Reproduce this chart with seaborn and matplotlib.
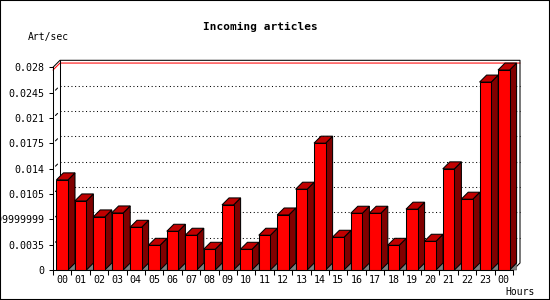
import numpy as np
import pandas as pd
import matplotlib
matplotlib.use("Agg")
import matplotlib.pyplot as plt
import seaborn as sns
from matplotlib.patches import Polygon, Rectangle

# ---- data ----
hours = ["00", "01", "02", "03", "04", "05", "06", "07", "08", "09", "10", "11",
         "12", "13", "14", "15", "16", "17", "18", "19", "20", "21", "22", "23", "00"]
values = [0.01245, 0.00954, 0.00733, 0.00788, 0.0059, 0.00341, 0.00535, 0.0048,
          0.00286, 0.00899, 0.00286, 0.0048, 0.0076, 0.01116, 0.01752, 0.00452,
          0.00784, 0.00784, 0.00341, 0.0084, 0.00397, 0.01397, 0.00978, 0.02596, 0.02762]
ytick_values = [0, 0.0035, 0.007, 0.0105, 0.014, 0.0175, 0.021, 0.0245, 0.028]
ytick_labels = ["0", "0.0035", "0.00699999999", "0.0105", "0.014", "0.0175",
                "0.021", "0.0245", "0.028"]
title = "Incoming articles"
ylabel = "Art/sec"
xlabel = "Hours"

sns.set_theme(style="white")
plt.rcParams['font.family'] = ['DejaVu Sans Mono']

W, H = 550, 300
fig = plt.figure(figsize=(W / 100, H / 100), dpi=100)
fig.patch.set_facecolor("white")
ax_h = 202.7
ax = fig.add_axes([53 / W, 30 / H, 460 / W, ax_h / H])
ax.patch.set_visible(False)

n = len(values)
df = pd.DataFrame({"slot": list(range(n)), "value": values})
sns.barplot(data=df, x="slot", y="value", color="#ff0000", saturation=1,
            width=0.63, edgecolor="black", linewidth=0.75, errorbar=None,
            ax=ax, zorder=3)

ymax = 0.028
ax.set_xlim(-0.5, n - 0.5)
ax.set_ylim(0, ymax)

# depth of the 3D effect (7 px)
DX = 7 / (460 / n)
DY = 7 / ax_h * ymax
LW = 0.75

for p in list(ax.patches):
    p.set_clip_on(False)
    x0 = p.get_x()
    w = p.get_width()
    h = p.get_height()
    x1 = x0 + w
    shadow = Polygon([(x1, 0), (x1 + DX, DY), (x1 + DX, 0)], closed=True,
                     fc="#808080", ec="#606060", lw=0.5, zorder=2.5, clip_on=False)
    side = Polygon([(x1, 0), (x1 + DX, DY), (x1 + DX, h + DY), (x1, h)], closed=True,
                   fc="#800000", ec="black", lw=LW, zorder=2.8, clip_on=False)
    top = Polygon([(x0, h), (x1, h), (x1 + DX, h + DY), (x0 + DX, h + DY)], closed=True,
                  fc="#c00000", ec="black", lw=LW, zorder=2.8, clip_on=False)
    ax.add_patch(shadow)
    ax.add_patch(side)
    ax.add_patch(top)

xl, xr = -0.5, n - 0.5
# back-plane dotted grid
for v in ytick_values[1:-1]:
    ax.plot([xl + DX, xr + DX], [v + DY, v + DY], color="black", lw=0.75,
            ls=(0, (1, 2.5)), zorder=1, clip_on=False)
    ax.plot([xl + DX * 0.35, xl + DX * 0.65], [v + DY * 0.35, v + DY * 0.65],
            color="black", lw=0.75, zorder=1, clip_on=False)
# max line (red) in back plane
vmax = max(values)
ax.plot([xl, xl + DX, xr + DX], [vmax, vmax + DY, vmax + DY], color="red", lw=0.75,
        zorder=1.5, clip_on=False)
# back plane frame
ax.plot([xl, xl + DX, xr + DX, xr + DX, xr],
        [ymax, ymax + DY, ymax + DY, DY, 0], color="black", lw=0.75,
        zorder=1.6, clip_on=False)
ax.plot([xl + DX, xl + DX], [DY, ymax + DY], color="black", lw=0.75,
        zorder=1.6, clip_on=False)

# spines
for s in ["top", "right"]:
    ax.spines[s].set_visible(False)
for s in ["left", "bottom"]:
    ax.spines[s].set_color("black")
    ax.spines[s].set_linewidth(0.75)
    ax.spines[s].set_zorder(4)

ax.set_yticks(ytick_values, ytick_labels)
ax.set_xticks(range(n), hours)
ax.set_xticks(np.arange(-0.5, n), minor=True)
ax.tick_params(axis="y", which="major", left=True, length=3, width=0.75, pad=3,
               labelsize=7.2, colors="black")
ax.tick_params(axis="x", which="major", bottom=True, length=0, pad=3.5,
               labelsize=7.2, colors="black")
ax.tick_params(axis="x", which="minor", bottom=True, length=3.5, width=0.75,
               colors="black")
ax.set_xlabel("")
ax.set_ylabel("")

fig.text(260 / W, 1 - 27 / H, title, ha="center", va="center",
         fontsize=8, fontweight="bold", color="black")
fig.text(28 / W, 1 - 37 / H, ylabel, ha="left", va="center",
         fontsize=7, color="black")
fig.text(505 / W, 1 - 292 / H, xlabel, ha="left", va="center",
         fontsize=7, color="black")

fig.patches.append(Rectangle((0, 0), 1, 1, transform=fig.transFigure,
                             fill=False, ec="black", lw=1.5, zorder=10))

fig.savefig("out.png", dpi=100)
